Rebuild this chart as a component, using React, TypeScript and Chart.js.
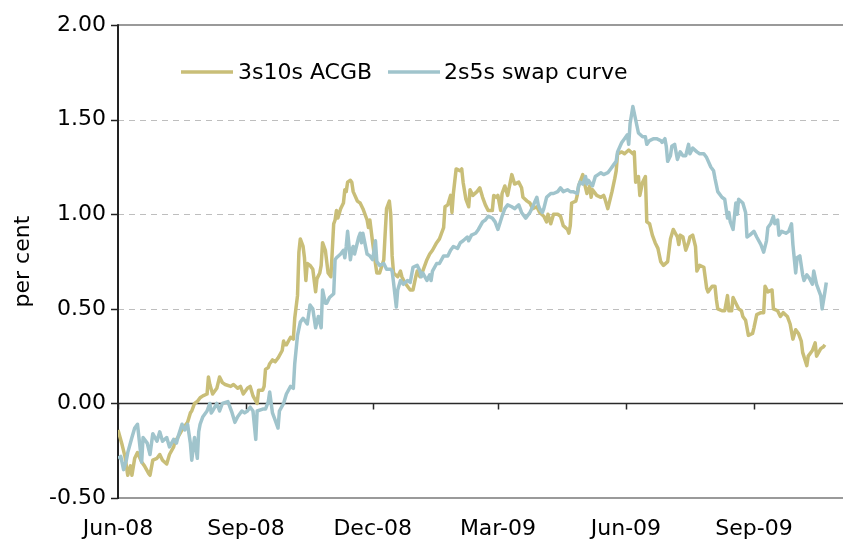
import React, { useEffect, useRef } from "react";
import { Chart, registerables } from "chart.js";

Chart.register(...registerables);

// x values: days counted from 1 June 2008
const acgbDays = [
  0, 3, 5, 7, 9, 10, 12, 14, 17, 19,
  22, 23, 25, 28, 30, 32, 35, 37, 40, 41,
  43, 46, 48, 50, 52, 53, 55, 57, 59, 61,
  64, 65, 66, 68, 71, 73, 75, 77, 81, 83,
  86, 88, 90, 93, 95, 97, 100, 101, 104, 105,
  106, 108, 109, 111, 113, 115, 118, 119, 120, 121,
  124, 126, 127, 129, 130, 131, 133, 134, 135, 136,
  138, 140, 142, 143, 145, 146, 147, 149, 150, 151,
  153, 155, 156, 157, 158, 160, 162, 163, 164, 165,
  167, 168, 169, 172, 174, 176, 179, 180, 181, 183,
  185, 186, 188, 191, 192, 193, 195, 196, 197, 198,
  201, 203, 204, 206, 208, 210, 212, 214, 215, 217,
  219, 222, 224, 226, 229, 231, 234, 235, 237, 239,
  240, 241, 243, 246, 247, 248, 250, 252, 253, 255,
  258, 260, 262, 264, 266, 269, 270, 272, 273, 275,
  276, 278, 280, 283, 285, 288, 290, 291, 294, 296,
  298, 301, 303, 306, 308, 309, 311, 313, 316, 318,
  320, 323, 324, 325, 326, 329, 330, 331, 334, 335,
  337, 339, 340, 341, 344, 347, 349, 350, 352, 355,
  357, 358, 359, 362, 364, 367, 370, 371, 372, 374,
  375, 377, 379, 380, 382, 384, 386, 388, 390, 392,
  395, 397, 399, 402, 403, 404, 406, 408, 410, 411,
  413, 415, 416, 418, 421, 423, 424, 427, 429, 430,
  431, 434, 436, 438, 439, 441, 442, 444, 446, 448,
  449, 451, 452, 453, 456, 457, 459, 462, 464, 465,
  467, 470, 471, 474, 476, 478, 481, 483, 485, 487,
  489, 491, 492, 495, 496, 499, 501, 502, 505, 507,
  508,
];
const acgbValues = [
  -0.14, -0.22, -0.28, -0.38, -0.33, -0.38, -0.29, -0.26, -0.31, -0.33,
  -0.37, -0.38, -0.3, -0.29, -0.27, -0.3, -0.32, -0.27, -0.23, -0.2,
  -0.18, -0.14, -0.12, -0.1, -0.05, -0.04, 0.0, 0.01, 0.03, 0.04,
  0.05, 0.14, 0.1, 0.05, 0.08, 0.14, 0.11, 0.1, 0.09, 0.1,
  0.08, 0.09, 0.05, 0.08, 0.09, 0.04, 0.0, 0.07, 0.07, 0.09,
  0.18, 0.19, 0.21, 0.23, 0.22, 0.24, 0.28, 0.33, 0.31, 0.31,
  0.35, 0.34, 0.45, 0.57, 0.8, 0.87, 0.83, 0.77, 0.65, 0.74,
  0.73, 0.71, 0.59, 0.66, 0.69, 0.73, 0.85, 0.81, 0.75, 0.69,
  0.67, 0.95, 0.97, 1.02, 0.98, 1.03, 1.06, 1.13, 1.12, 1.17,
  1.18, 1.17, 1.12, 1.07, 1.06, 1.03, 0.97, 0.93, 0.97, 0.85,
  0.74, 0.69, 0.69, 0.76, 0.9, 1.03, 1.07, 1.0, 0.78, 0.69,
  0.67, 0.7, 0.67, 0.64, 0.62, 0.6, 0.6, 0.67, 0.7, 0.67,
  0.7, 0.76, 0.79, 0.81, 0.85, 0.87, 0.93, 1.04, 1.05, 1.1,
  1.01, 1.11, 1.24, 1.23, 1.24, 1.17, 1.08, 1.04, 1.13, 1.1,
  1.12, 1.14, 1.09, 1.05, 1.02, 1.02, 1.1, 1.09, 1.1, 1.02,
  1.11, 1.15, 1.1, 1.21, 1.16, 1.17, 1.14, 1.09, 1.07, 1.06,
  1.03, 1.04, 1.01, 0.99, 0.96, 1.0, 0.95, 1.0, 1.0, 0.99,
  0.94, 0.92, 0.9, 0.94, 1.06, 1.07, 1.1, 1.15, 1.21, 1.17,
  1.11, 1.15, 1.09, 1.13, 1.1, 1.09, 1.1, 1.08, 1.03, 1.12,
  1.19, 1.23, 1.32, 1.33, 1.32, 1.34, 1.32, 1.33, 1.17, 1.2,
  1.1, 1.17, 1.2, 0.96, 0.95, 0.89, 0.85, 0.82, 0.75, 0.73,
  0.75, 0.87, 0.92, 0.88, 0.84, 0.89, 0.88, 0.81, 0.85, 0.88,
  0.89, 0.83, 0.7, 0.73, 0.72, 0.61, 0.59, 0.62, 0.62, 0.55,
  0.5, 0.49, 0.49, 0.57, 0.49, 0.49, 0.56, 0.53, 0.5, 0.49,
  0.46, 0.44, 0.4, 0.36, 0.37, 0.4, 0.47, 0.48, 0.48, 0.62,
  0.59, 0.6, 0.5, 0.49, 0.46, 0.48, 0.46, 0.42, 0.34, 0.39,
  0.37, 0.33, 0.27, 0.2, 0.25, 0.28, 0.32, 0.25, 0.29, 0.3,
  0.31,
];

const swapDays = [
  0, 2, 4, 6, 7, 10, 12, 14, 17, 18,
  21, 23, 25, 28, 30, 32, 35, 37, 40, 42,
  43, 46, 48, 50, 52, 53, 55, 57, 58, 59,
  61, 64, 66, 67, 68, 71, 73, 75, 79, 82,
  84, 86, 89, 91, 93, 95, 97, 99, 100, 104,
  106, 108, 109, 111, 113, 115, 116, 119, 121, 124,
  126, 127, 129, 131, 133, 136, 138, 139, 140, 142,
  144, 146, 147, 149, 150, 152, 155, 156, 157, 160,
  162, 163, 164, 165, 167, 168, 169, 170, 173, 174,
  175, 176, 179, 181, 183, 185, 186, 188, 191, 193,
  196, 197, 198, 200, 201, 203, 205, 208, 210, 212,
  215, 217, 218, 219, 222, 224, 225, 226, 229, 231,
  234, 237, 239, 241, 244, 246, 248, 251, 252, 254,
  257, 259, 262, 264, 266, 269, 271, 273, 276, 278,
  280, 283, 285, 288, 290, 293, 296, 298, 301, 302,
  303, 305, 306, 308, 311, 313, 316, 318, 320, 323,
  325, 327, 330, 331, 332, 334, 336, 337, 338, 341,
  343, 345, 347, 349, 352, 354, 356, 358, 359, 362,
  364, 366, 367, 368, 370, 372, 374, 377, 379, 380,
  382, 385, 387, 390, 391, 393, 394, 395, 397, 398,
  400, 402, 404, 406, 408, 410, 411, 413, 416, 418,
  421, 423, 426, 428, 429, 431, 434, 436, 438, 439,
  440, 442, 444, 445, 446, 449, 451, 452, 454, 457,
  459, 462, 464, 466, 467, 469, 471, 472, 474, 475,
  477, 480, 482, 484, 485, 487, 488, 490, 492, 493,
  495, 497, 499, 500, 502, 505, 506, 508, 509,
];
const swapValues = [
  -0.29, -0.28, -0.35, -0.3, -0.26, -0.18, -0.13, -0.11, -0.31, -0.18,
  -0.21, -0.27, -0.16, -0.2, -0.15, -0.2, -0.18, -0.23, -0.19, -0.21,
  -0.18, -0.11, -0.14, -0.11, -0.21, -0.3, -0.18, -0.29, -0.15, -0.11,
  -0.07, -0.04, 0.0, -0.05, -0.04, 0.0, -0.04, 0.0, 0.01, -0.05,
  -0.1, -0.07, -0.04, -0.05, -0.04, -0.02, -0.04, -0.19, -0.04, -0.03,
  -0.03, 0.01, 0.06, -0.05, -0.09, -0.13, -0.04, 0.0, 0.05, 0.09,
  0.08, 0.21, 0.36, 0.43, 0.45, 0.42, 0.52, 0.51, 0.5, 0.4,
  0.46, 0.4, 0.6, 0.53, 0.53, 0.56, 0.58, 0.76, 0.77, 0.79,
  0.81, 0.77, 0.83, 0.91, 0.76, 0.81, 0.83, 0.79, 0.88, 0.9,
  0.85, 0.9, 0.79, 0.78, 0.76, 0.86, 0.75, 0.73, 0.74, 0.71,
  0.71, 0.7, 0.64, 0.51, 0.6, 0.65, 0.63, 0.65, 0.64, 0.72,
  0.73, 0.7, 0.67, 0.69, 0.65, 0.68, 0.65, 0.7, 0.74, 0.74,
  0.78, 0.78, 0.81, 0.83, 0.82, 0.85, 0.86, 0.88, 0.86, 0.89,
  0.9, 0.92, 0.96, 0.97, 0.99, 0.98, 0.96, 0.92, 0.99, 1.03,
  1.05, 1.04, 1.03, 1.05, 1.01, 0.98, 1.01, 1.04, 1.09, 1.05,
  1.03, 1.01, 1.03, 1.09, 1.11, 1.11, 1.12, 1.14, 1.12, 1.13,
  1.12, 1.12, 1.11, 1.15, 1.17, 1.16, 1.2, 1.16, 1.18, 1.15,
  1.2, 1.21, 1.22, 1.21, 1.22, 1.24, 1.26, 1.28, 1.33, 1.38,
  1.4, 1.42, 1.37, 1.48, 1.57, 1.5, 1.43, 1.41, 1.41, 1.37,
  1.39, 1.4, 1.4, 1.39, 1.38, 1.4, 1.36, 1.28, 1.31, 1.36,
  1.37, 1.29, 1.33, 1.31, 1.31, 1.37, 1.32, 1.35, 1.33, 1.32,
  1.32, 1.3, 1.25, 1.23, 1.19, 1.12, 1.09, 1.08, 0.98, 1.01,
  0.96, 0.92, 1.06, 1.0, 1.08, 1.06, 1.01, 0.88, 0.89, 0.91,
  0.88, 0.84, 0.8, 0.86, 0.93, 0.95, 0.99, 0.95, 0.97, 0.89,
  0.91, 0.9, 0.91, 0.95, 0.84, 0.69, 0.77, 0.78, 0.68, 0.65,
  0.68, 0.66, 0.63, 0.7, 0.63, 0.57, 0.5, 0.59, 0.64,
];

const seriesNames = ["3s10s ACGB", "2s5s swap curve"];
const seriesColors = ["#C9BE78", "#A0C4CC"];

const xTickDays = [0, 92, 183, 273, 365, 457];
const xTickLabels = ["Jun-08", "Sep-08", "Dec-08", "Mar-09", "Jun-09", "Sep-09"];
const xMaxDay = 521;

const yMin = -0.5;
const yMax = 2.0;
const yStep = 0.5;
const dashedGridValues = [0.5, 1.0, 1.5];
const yTitle = "per cent";

const FONT = "'DejaVu Sans', Verdana, sans-serif";

const decorPlugin = {
  id: "decor",
  beforeDatasetsDraw(chart: any) {
    const { ctx, chartArea } = chart;
    const { left, right } = chartArea;
    const x = chart.scales.x;
    const y = chart.scales.y;
    ctx.save();
    // dashed gridlines
    ctx.strokeStyle = "#BEBEBE";
    ctx.lineWidth = 1;
    ctx.setLineDash([6, 5]);
    for (const v of dashedGridValues) {
      const py = Math.round(y.getPixelForValue(v)) + 0.5;
      ctx.beginPath();
      ctx.moveTo(left, py);
      ctx.lineTo(right, py);
      ctx.stroke();
    }
    ctx.setLineDash([]);
    // top and bottom borders
    ctx.strokeStyle = "#9A9A9A";
    ctx.lineWidth = 2;
    for (const v of [yMin, yMax]) {
      const py = Math.round(y.getPixelForValue(v));
      ctx.beginPath();
      ctx.moveTo(left, py);
      ctx.lineTo(right, py);
      ctx.stroke();
    }
    // zero axis line
    const y0 = Math.round(y.getPixelForValue(0)) + 0.5;
    ctx.strokeStyle = "#2A2A2A";
    ctx.lineWidth = 1.5;
    ctx.beginPath();
    ctx.moveTo(left, y0);
    ctx.lineTo(right, y0);
    ctx.stroke();
    // x tick marks below zero line
    ctx.lineWidth = 1.5;
    for (const d of xTickDays) {
      const px = Math.round(x.getPixelForValue(d)) + 0.5;
      ctx.beginPath();
      ctx.moveTo(px, y0);
      ctx.lineTo(px, y0 + 6);
      ctx.stroke();
    }
    // y axis line
    ctx.strokeStyle = "#222222";
    ctx.lineWidth = 2;
    const top = y.getPixelForValue(yMax);
    const bottom = y.getPixelForValue(yMin);
    ctx.beginPath();
    ctx.moveTo(left, top - 1);
    ctx.lineTo(left, bottom + 1);
    ctx.stroke();
    // y tick marks
    ctx.lineWidth = 1.5;
    for (let v = yMin; v <= yMax + 1e-9; v += yStep) {
      const py = Math.round(y.getPixelForValue(v)) + 0.5;
      ctx.beginPath();
      ctx.moveTo(left - 7, py);
      ctx.lineTo(left, py);
      ctx.stroke();
    }
    ctx.restore();
  },
  afterDraw(chart: any) {
    const { ctx } = chart;
    ctx.save();
    const ly = 72;
    const items = [
      { x0: 181, x1: 233, tx: 238 },
      { x0: 388, x1: 440, tx: 444 },
    ];
    ctx.font = `22px ${FONT}`;
    ctx.textBaseline = "middle";
    ctx.textAlign = "left";
    items.forEach((it, i) => {
      ctx.strokeStyle = seriesColors[i];
      ctx.lineWidth = 3.5;
      ctx.beginPath();
      ctx.moveTo(it.x0, ly);
      ctx.lineTo(it.x1, ly);
      ctx.stroke();
      ctx.fillStyle = "#000000";
      ctx.fillText(seriesNames[i], it.tx, ly + 1);
    });
    ctx.restore();
  },
};

export default function App() {
  const canvasRef = useRef<HTMLCanvasElement | null>(null);

  useEffect(() => {
    const canvas = canvasRef.current;
    if (!canvas) return;
    const acgbData = acgbDays.map((d, i) => ({ x: d, y: acgbValues[i] }));
    const swapData = swapDays.map((d, i) => ({ x: d, y: swapValues[i] }));

    const chart = new Chart(canvas, {
      type: "line",
      data: {
        datasets: [
          {
            label: seriesNames[0],
            data: acgbData,
            borderColor: seriesColors[0],
            backgroundColor: seriesColors[0],
            borderWidth: 3.5,
            pointRadius: 0,
            tension: 0,
            borderJoinStyle: "round",
            order: 1,
          },
          {
            label: seriesNames[1],
            data: swapData,
            borderColor: seriesColors[1],
            backgroundColor: seriesColors[1],
            borderWidth: 3.5,
            pointRadius: 0,
            tension: 0,
            borderJoinStyle: "round",
            order: 0,
          },
        ],
      },
      options: {
        responsive: false,
        animation: false,
        layout: { padding: { top: 19, right: 3, left: 0, bottom: 0 } },
        plugins: {
          legend: { display: false },
          tooltip: { enabled: false },
        },
        scales: {
          x: {
            type: "linear",
            min: 0,
            max: xMaxDay,
            grid: { display: false, drawTicks: false },
            border: { display: false },
            afterBuildTicks: (scale: any) => {
              scale.ticks = xTickDays.map((v) => ({ value: v }));
            },
            afterFit: (scale: any) => {
              scale.height = 43;
            },
            ticks: {
              autoSkip: false,
              maxRotation: 0,
              padding: 18,
              color: "#000000",
              font: { family: FONT, size: 22 },
              callback: (value: any) => {
                const idx = xTickDays.indexOf(Number(value));
                return idx >= 0 ? xTickLabels[idx] : "";
              },
            },
          },
          y: {
            type: "linear",
            min: yMin,
            max: yMax,
            grid: { display: false, drawTicks: false },
            border: { display: false },
            afterFit: (scale: any) => {
              scale.width = 118;
            },
            title: {
              display: true,
              text: yTitle,
              color: "#000000",
              font: { family: FONT, size: 22 },
              padding: { top: 10, bottom: 0 },
            },
            ticks: {
              stepSize: yStep,
              padding: 12,
              color: "#000000",
              font: { family: FONT, size: 22 },
              callback: (value: any) => Number(value).toFixed(2),
            },
          },
        },
      },
      plugins: [decorPlugin],
    });

    return () => {
      chart.destroy();
    };
  }, []);

  return (
    <div style={{ position: "absolute", left: 0, top: 0, width: 846, height: 541, background: "#ffffff" }}>
      <canvas ref={canvasRef} width={846} height={541} style={{ width: 846, height: 541, display: "block" }} />
    </div>
  );
}
